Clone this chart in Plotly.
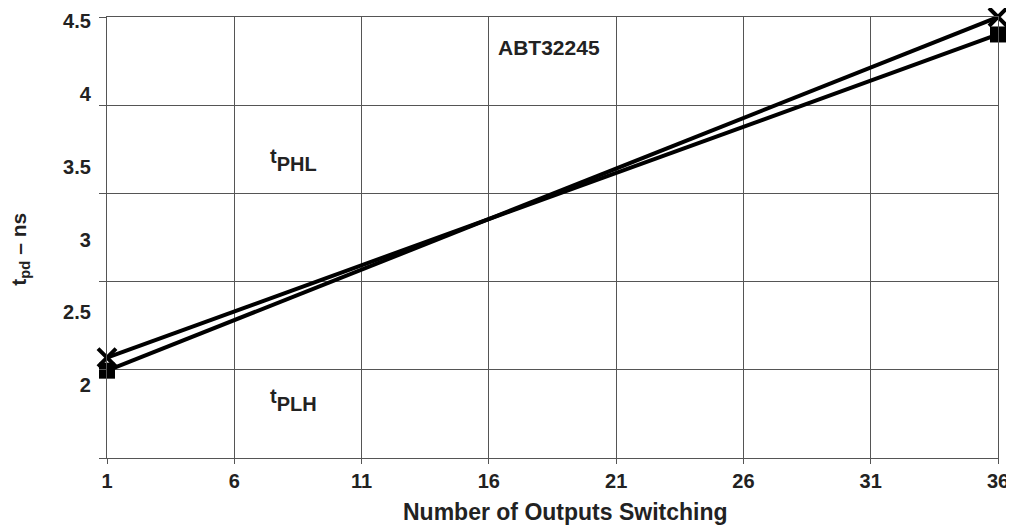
import plotly.graph_objects as go

# ---- data ----
outputs = [1, 36]
tphl_ns = [2.19, 4.41]          # upper line at left, lower at right
tplh_ns = [2.10, 4.53]          # lower line at left, upper at right

x_ticks = [1, 6, 11, 16, 21, 26, 31, 36]
y_ticks = [2, 2.5, 3, 3.5, 4, 4.5]
y_ticktext = ["2", "2.5", "3", "3.5", "4", "4.5"]

TXT = "#222222"
GRID = "#555555"
INK = "#000000"
FONT = "Liberation Sans, Arial, sans-serif"

fig = go.Figure()
for ys in (tphl_ns, tplh_ns):
    fig.add_trace(go.Scatter(
        x=outputs, y=ys, mode="lines", line=dict(color=INK, width=4),
        cliponaxis=False, showlegend=False, hoverinfo="skip"))

# square markers: lower end-points, X markers: upper end-points
sq_y = [tplh_ns[0], tphl_ns[1]]
x_y = [tphl_ns[0], tplh_ns[1]]
fig.add_trace(go.Scatter(
    x=outputs, y=sq_y, mode="markers",
    marker=dict(symbol="square", size=16, color=INK, line=dict(width=0)),
    cliponaxis=False, showlegend=False, hoverinfo="skip"))
fig.add_trace(go.Scatter(
    x=outputs, y=x_y, mode="markers",
    marker=dict(symbol="x-thin-open", size=18, color=INK, line=dict(color=INK, width=4)),
    cliponaxis=False, showlegend=False, hoverinfo="skip"))

# invisible trace on the grid axis
fig.add_trace(go.Scatter(x=[1], y=[0], yaxis="y2", mode="markers",
                         marker=dict(opacity=0), showlegend=False, hoverinfo="skip"))

tick_font = dict(size=20, family=FONT, color=TXT, weight="bold")

fig.update_layout(
    width=1006, height=519,
    margin=dict(l=99, r=16, t=9, b=69, autoexpand=False),
    paper_bgcolor="white", plot_bgcolor="white",
    font=dict(family=FONT, color=TXT, size=20, weight="bold"),
    xaxis=dict(
        range=[1, 36], tickvals=x_ticks, showgrid=True, gridcolor=GRID, gridwidth=1.2,
        zeroline=False, showline=True, linecolor=GRID, linewidth=1.2, mirror=True,
        ticks="outside", ticklen=5, tickcolor=GRID, tickwidth=1.2,
        tickfont=tick_font, automargin=False,
    ),
    yaxis=dict(
        range=[1.5, 4.53], tickvals=y_ticks, ticktext=y_ticktext, showgrid=False,
        zeroline=False, showline=True, linecolor=GRID, linewidth=1.2, mirror=True,
        ticks="", ticklabelstandoff=11, tickfont=tick_font, automargin=False,
    ),
    yaxis2=dict(
        overlaying="y", side="left", range=[0, 5], tickvals=[0, 1, 2, 3, 4, 5],
        showticklabels=False, showgrid=True, gridcolor=GRID, gridwidth=1.2,
        zeroline=False, showline=False, automargin=False,
        ticks="outside", ticklen=7, tickcolor=GRID, tickwidth=1.2,
    ),
    annotations=[
        dict(text="Number of Outputs Switching", xref="paper", yref="paper",
             x=0.515, y=-0.122, xanchor="center", yanchor="middle", showarrow=False,
             font=dict(size=23, family=FONT, color=TXT, weight="bold")),
        dict(text="t<sub>pd</sub> – ns", xref="paper", yref="paper",
             x=-0.098, y=0.474, xanchor="center", yanchor="middle",
             showarrow=False, textangle=-90,
             font=dict(size=21, family=FONT, color=TXT, weight="bold")),
        dict(text="ABT32245", xref="x domain", yref="y domain", x=0.496, y=0.931,
             xanchor="center", yanchor="middle", showarrow=False,
             font=dict(size=21, family=FONT, color=TXT, weight="bold")),
        dict(text="<sup><span style='font-size:20px'>t</span></sup>PHL",
             xref="x domain", yref="y domain", x=0.181, y=0.675, xanchor="left",
             yanchor="middle", showarrow=False,
             font=dict(size=20, family=FONT, color=TXT, weight="bold")),
        dict(text="<sup><span style='font-size:20px'>t</span></sup>PLH",
             xref="x domain", yref="y domain", x=0.181, y=0.131, xanchor="left",
             yanchor="middle", showarrow=False,
             font=dict(size=20, family=FONT, color=TXT, weight="bold")),
    ],
)

fig.write_html("out.html")
